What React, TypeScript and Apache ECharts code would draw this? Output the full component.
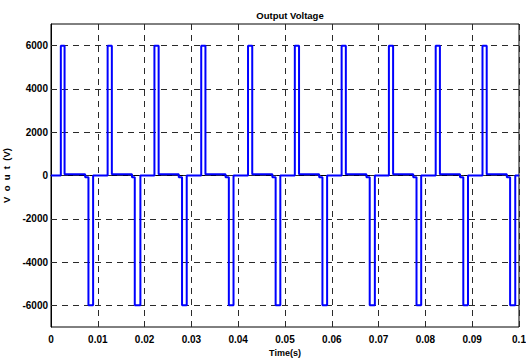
import React, { useEffect, useRef } from "react";
import * as echarts from "echarts";

// Pulse edge times (s), one entry per 0.01 s period
const posOn = [0.0021, 0.0121, 0.0221, 0.0321, 0.0421, 0.0521, 0.0621, 0.0722, 0.0822, 0.0922];
const posOff = [0.0029, 0.013, 0.023, 0.033, 0.043, 0.053, 0.063, 0.0731, 0.0831, 0.0931];
const preNeg = [0.0073, 0.0173, 0.0273, 0.0373, 0.0473, 0.0573, 0.0674, 0.0774, 0.0874, 0.0974];
const negOn = [0.008, 0.0179, 0.028, 0.038, 0.048, 0.058, 0.0681, 0.0781, 0.0881, 0.0981];
const negOff = [0.009, 0.0191, 0.029, 0.039, 0.049, 0.059, 0.0692, 0.0791, 0.0891, 0.0992];

// Levels (V)
const highLevel = 6000;
const lowLevel = -6000;
const afterPosLevel = 60;
const preNegLevel = -80;
const restLevel = 0;

const xTicks = [0, 0.01, 0.02, 0.03, 0.04, 0.05, 0.06, 0.07, 0.08, 0.09, 0.1];
const yTicks = [-6000, -4000, -2000, 0, 2000, 4000, 6000];

function buildData(): [number, number][] {
  const pts: [number, number][] = [[0, restLevel]];
  for (let i = 0; i < posOn.length; i++) {
    pts.push([posOn[i], highLevel]);
    pts.push([posOff[i], afterPosLevel]);
    pts.push([preNeg[i], preNegLevel]);
    pts.push([negOn[i], lowLevel]);
    pts.push([negOff[i], restLevel]);
  }
  pts.push([xTicks[xTicks.length - 1], restLevel]);
  return pts;
}

const FONT = "'Liberation Sans', Arial, sans-serif";

export default function App() {
  const ref = useRef<HTMLDivElement>(null);
  useEffect(() => {
    document.body.style.margin = "0";
    if (!ref.current) return;
    const chart = echarts.init(ref.current, undefined, { renderer: "svg" });
    const gridDash = { color: "#2a2a2a", width: 1, type: [6, 5] as number[] };
    chart.setOption({
      animation: false,
      backgroundColor: "#ffffff",
      title: {
        text: "Output Voltage",
        left: 285,
        textAlign: "center",
        top: 5,
        textStyle: { fontFamily: FONT, fontSize: 9.5, fontWeight: "bold", color: "#000" },
      },
      grid: {
        left: 51,
        right: 7,
        top: 24,
        bottom: 31,
        outerBoundsMode: "none",
        containLabel: false,
        show: true,
        borderColor: "#000",
        borderWidth: 1,
        backgroundColor: "#fff",
      },
      xAxis: {
        type: "value",
        min: 0,
        max: 0.1,
        interval: 0.01,
        name: "Time(s)",
        nameLocation: "middle",
        nameGap: 19,
        nameTextStyle: { fontFamily: FONT, fontSize: 9, fontWeight: "bold", color: "#000" },
        axisLine: { show: true, lineStyle: { color: "#000", width: 1 } },
        axisTick: { show: false },
        axisLabel: {
          fontFamily: FONT,
          fontSize: 10,
          fontWeight: "bold",
          color: "#000",
          margin: 7,
          formatter: (v: number) => {
            const t = xTicks.find((x) => Math.abs(x - v) < 1e-9);
            return t === undefined ? "" : String(Math.round(t * 100) / 100);
          },
        },
        splitLine: { show: true, lineStyle: gridDash },
      },
      yAxis: {
        type: "value",
        min: -7000,
        max: 7000,
        interval: 1000,
        name: "V  o  u  t  (V)",
        nameLocation: "middle",
        nameGap: 18,
        nameTextStyle: { fontFamily: FONT, fontSize: 9.5, fontWeight: "bold", color: "#000" },
        axisLine: { show: true, lineStyle: { color: "#000", width: 1 } },
        axisTick: { show: false },
        axisLabel: {
          fontFamily: FONT,
          fontSize: 10,
          fontWeight: "bold",
          color: "#000",
          margin: 3,
          formatter: (v: number) => (yTicks.indexOf(v) >= 0 ? String(v) : ""),
        },
        splitLine: { show: false },
      },
      series: [
        {
          type: "line",
          data: [],
          silent: true,
          z: 1,
          markLine: {
            silent: true,
            z: 1,
            symbol: ["none", "none"],
            label: { show: false },
            lineStyle: gridDash,
            data: yTicks.map((y) => ({ yAxis: y })),
          },
        },
        {
          type: "line",
          data: buildData(),
          step: "end",
          showSymbol: false,
          z: 3,
          lineStyle: { color: "#0000ff", width: 2 },
          itemStyle: { color: "#0000ff" },
        },
      ],
    });
    return () => chart.dispose();
  }, []);
  return <div ref={ref} style={{ width: 526, height: 358 }} />;
}
